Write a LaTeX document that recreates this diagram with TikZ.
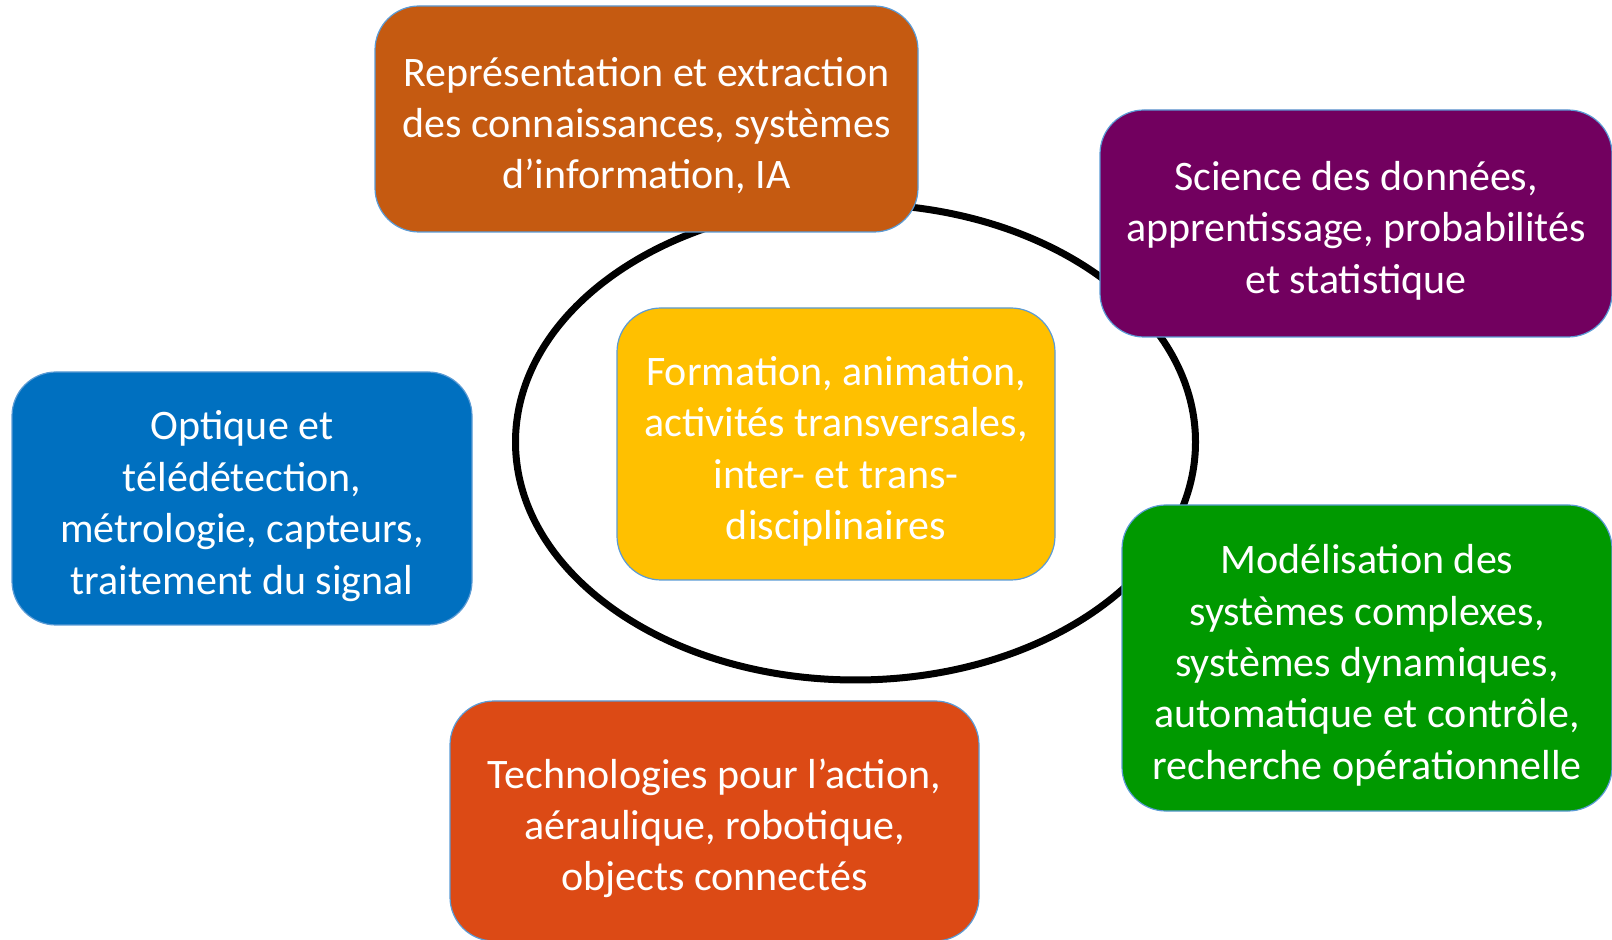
\documentclass[tikz,border=0pt]{standalone}
\usepackage{fontspec}
\setmainfont{Carlito}
\usetikzlibrary{shapes.geometric}

\definecolor{brunorange}{HTML}{C55A11}
\definecolor{prune}{HTML}{72005F}
\definecolor{bleuopt}{HTML}{0070C0}
\definecolor{jaune}{HTML}{FFC000}
\definecolor{vert}{HTML}{009900}
\definecolor{rougeorange}{HTML}{DC4A15}
\definecolor{bord}{HTML}{5B9BD5}

% texte centre, descendu un peu comme dans l'original
\newcommand{\pave}[1]{\raisebox{-4.1pt}[\height][\depth]{\begin{tabular}{@{}c@{}}#1\end{tabular}}}

\begin{document}
\begin{tikzpicture}[x=0.5pt,y=-0.5pt,
    theme/.style={draw=bord,line width=0.6pt,rounded corners=22pt,text=white,
      inner sep=0pt,font=\fontsize{21}{25.7}\selectfont},
    ring/.style={draw,ellipse,line width=3.5pt,inner sep=0pt}]
        \useasboundingbox (0,0) rectangle (1612,940);
        \node[ring,minimum width=340pt,minimum height=238pt] (anneau) at (855.5,442) {};
        \node[theme,fill=brunorange,minimum width=271.5pt,minimum height=113pt] (repr) at (646.5,119)
            {\pave{Représentation et extraction\\des connaissances, systèmes\\d’information, IA}};
        \node[theme,fill=prune,minimum width=256pt,minimum height=113.5pt] (donnees) at (1356,223.5)
            {\pave{Science des données,\\apprentissage, probabilités\\et statistique}};
        \node[theme,fill=bleuopt,minimum width=230pt,minimum height=126.5pt] (optique) at (242,498.5)
            {\pave{Optique et\\télédétection,\\métrologie, capteurs,\\traitement du signal}};
        \node[theme,fill=jaune,minimum width=219pt,minimum height=136pt] (formation) at (836,444)
            {\pave{Formation, animation,\\activités transversales,\\inter- et trans-\\disciplinaires}};
        \node[theme,fill=vert,minimum width=245pt,minimum height=153pt] (modeles) at (1367,658)
            {\pave{Modélisation des\\systèmes complexes,\\systèmes dynamiques,\\automatique et contrôle,\\recherche opérationnelle}};
        \node[theme,fill=rougeorange,minimum width=264.5pt,minimum height=120pt] (techno) at (714.5,821)
            {\pave{Technologies pour l’action,\\aéraulique, robotique,\\objects connectés}};
        \end{tikzpicture}
\end{document}
